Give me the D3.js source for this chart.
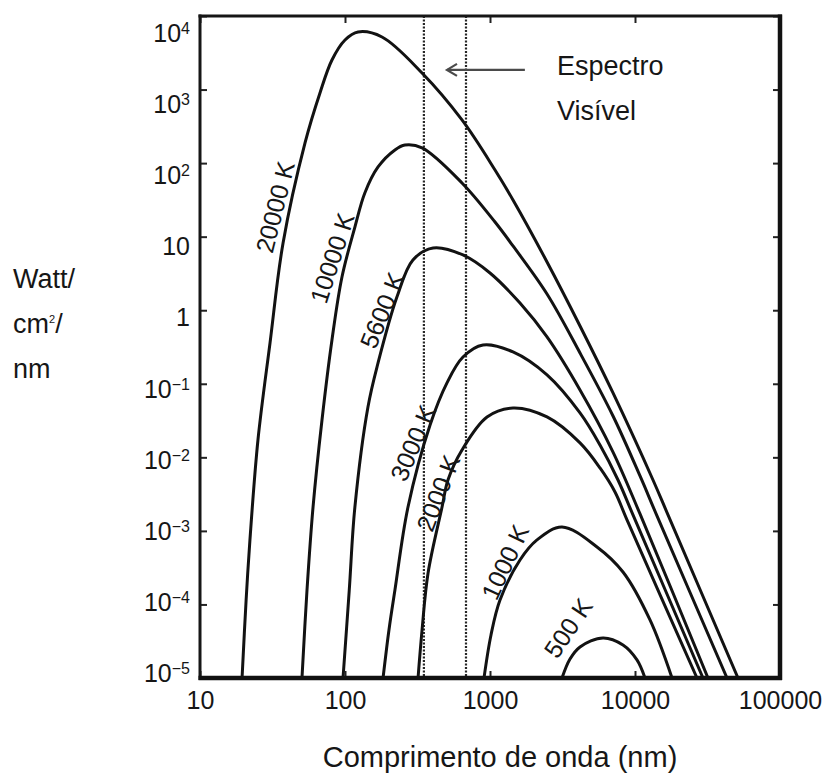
<!DOCTYPE html>
<html>
<head>
<meta charset="utf-8">
<script src="https://cdn.jsdelivr.net/npm/d3@7"></script>
<style>
body { margin: 0; background: #fff; }
text { font-family: "Liberation Sans", Arial, sans-serif; fill: #161616; }
</style>
</head>
<body>
<div id="chart"></div>
<script>
// wavelength (nm) and radiance (W/cm2/nm)
var wl20000 = [19.5, 20.8, 22.1, 25.1, 30.4, 37.4, 53.0, 67.2, 81.3, 100, 123, 180, 340, 641, 1083, 1441, 2473, 4176, 7053, 13310, 16890, 51330];
var I20000  = [1e-5, 1.15e-4, 7.53e-4, 1.72e-2, 0.359, 8.21, 188, 898, 2522, 4717, 6061, 5182, 1680, 386, 80.6, 31.5, 4.53, 0.611, 0.075, 4.92e-3, 1.65e-3, 1e-5];

var wl10000 = [50.5, 54.7, 60.2, 69.4, 81.3, 95.3, 117, 137, 169, 221, 259, 340, 641, 1083, 1441, 2473, 4176, 7053, 10830, 14180, 43110];
var I10000  = [1e-5, 1.57e-4, 2.11e-3, 3.22e-2, 0.394, 2.83, 13.5, 39.3, 88.6, 151, 176, 161, 53.7, 15.8, 7.47, 1.66, 0.262, 0.0365, 5.58e-3, 1.60e-3, 1e-5];

var wl5600 = [96.9, 107, 117, 144, 169, 228, 294, 405, 651, 1000, 1610, 2473, 4176, 7053, 10830, 31870];
var I5600  = [1e-5, 1.57e-4, 2.11e-3, 4.84e-2, 0.192, 1.51, 4.82, 7.02, 5.64, 3.21, 1.25, 0.433, 0.0823, 0.0118, 1.70e-3, 1e-5];

var wl3000 = [183, 201, 221, 272, 386, 505, 651, 895, 1441, 2473, 4176, 5736, 7635, 9687, 29440];
var I3000  = [1e-5, 4.50e-5, 1.57e-4, 2.11e-3, 2.75e-2, 0.103, 0.231, 0.337, 0.271, 0.132, 0.0401, 0.0147, 4.92e-3, 1.65e-3, 1e-5];

var wl2000 = [319, 340, 374, 467, 513, 641, 954, 1441, 2473, 4176, 5736, 7279, 8807, 26770];
var I2000  = [1e-5, 4.50e-5, 2.68e-4, 2.11e-3, 4.92e-3, 0.0126, 0.0354, 0.0469, 0.0354, 0.0157, 7.17e-3, 3.38e-3, 1.41e-3, 1e-5];

var wl1000 = [909, 1016, 1172, 1610, 2109, 3137, 5469, 8264, 12690, 18000];
var I1000  = [1e-5, 3.85e-5, 1.15e-4, 4.02e-4, 7.53e-4, 1.13e-3, 6.05e-4, 2.76e-4, 6.15e-5, 1e-5];

var wl500 = [3137, 3562, 4176, 6016, 8264, 10320, 11720];
var I500  = [1e-5, 1.81e-5, 2.64e-5, 3.50e-5, 2.81e-5, 1.76e-5, 1e-5];

var curveNames = ["20000 K", "10000 K", "5600 K", "3000 K", "2000 K", "1000 K", "500 K"];
var curveWl = [wl20000, wl10000, wl5600, wl3000, wl2000, wl1000, wl500];
var curveI = [I20000, I10000, I5600, I3000, I2000, I1000, I500];

var xTicks = [10, 100, 1000, 10000, 100000];
var yTicks = [1e-5, 1e-4, 1e-3, 1e-2, 1e-1, 1, 10, 100, 1000, 10000];

// visible band edges (nm)
var visibleBand = [350, 683];

// where each curve name sits (wavelength, radiance) and its slant
var labelSpots = [
    [32.9, 25.3, -76],
    [81.3, 5.13, -72],
    [180, 1.0, -68],
    [294, 0.0157, -67],
    [438, 3.28e-3, -69],
    [1269, 3.78e-4, -65],
    [3451, 4.79e-5, -56]
];

//svg size
var svgWidth = 829;
var svgHeight = 775;

var margin = {top: 16, right: 49, bottom: 97, left: 200};
var chartWidth = svgWidth - margin.left - margin.right;
var chartHeight = svgHeight - margin.top - margin.bottom;

var svg = d3.select("#chart")
    .append("svg")
    .attr("width", svgWidth)
    .attr("height", svgHeight);

var chartGroup = svg.append("g").attr("transform", `translate(${margin.left}, ${margin.top})`);

//scales
var xScale = d3.scaleLog().domain([10, 100000]).range([0, chartWidth]);
var yScale = d3.scaleLog().domain([1e-5, 1e4]).range([chartHeight, 0]);
// tick labels sit a bit tighter than the ticks in the original
var yLabelScale = d3.scaleLog().domain([1e-5, 1e4]).range([chartHeight - 5, 17]);

chartGroup.append("clipPath").attr("id", "plotClip")
    .append("rect").attr("width", chartWidth).attr("height", chartHeight);

//visible band dotted lines
chartGroup.selectAll(".band")
    .data(visibleBand)
    .enter()
    .append("line")
    .attr("x1", d => xScale(d))
    .attr("x2", d => xScale(d))
    .attr("y1", 0)
    .attr("y2", chartHeight)
    .attr("stroke", "#262626")
    .attr("stroke-width", 2.2)
    .attr("stroke-dasharray", "2,1.5");

//curves
var line = d3.line()
    .x(d => xScale(d[0]))
    .y(d => yScale(d[1]))
    .curve(d3.curveCatmullRom.alpha(0.5));

chartGroup.append("g").attr("clip-path", "url(#plotClip)")
    .selectAll("path")
    .data(curveNames)
    .enter()
    .append("path")
    .attr("d", (name, i) => line(d3.zip(curveWl[i], curveI[i])))
    .attr("fill", "none")
    .attr("stroke", "#121212")
    .attr("stroke-width", 3)
    .attr("stroke-linejoin", "round");

//curve labels
chartGroup.selectAll(".curveLabel")
    .data(curveNames)
    .enter()
    .append("text")
    .attr("transform", (name, i) => `translate(${xScale(labelSpots[i][0])}, ${yScale(labelSpots[i][1])}) rotate(${labelSpots[i][2]})`)
    .attr("text-anchor", "middle")
    .attr("dy", "0.36em")
    .style("font-size", "25px")
    .text(d => d);

//ticks on all four sides
var bottomAxis = d3.axisBottom(xScale).tickValues(xTicks).tickSize(-7).tickPadding(13).tickFormat(d3.format("d"));
var topAxis = d3.axisTop(xScale).tickValues(xTicks).tickSize(-7).tickFormat("");
var leftAxis = d3.axisLeft(yScale).tickValues(yTicks).tickSize(-7).tickFormat("");
var rightAxis = d3.axisRight(yScale).tickValues(yTicks).tickSize(-7).tickFormat("");

var xAxis = chartGroup.append("g").attr("transform", `translate(0, ${chartHeight})`).call(bottomAxis);
chartGroup.append("g").call(topAxis);
chartGroup.append("g").call(leftAxis);
chartGroup.append("g").attr("transform", `translate(${chartWidth}, 0)`).call(rightAxis);

chartGroup.selectAll(".domain").remove();
chartGroup.selectAll(".tick line").attr("stroke", "#222").attr("stroke-width", 2);
xAxis.selectAll("text")
    .style("font-size", "25px")
    .attr("fill", "#161616")
    .style("font-family", "'Liberation Sans', Arial, sans-serif");

//y tick labels with superscripts
var yLabels = chartGroup.append("g").selectAll("text")
    .data(yTicks)
    .enter()
    .append("text")
    .attr("x", -10)
    .attr("y", d => yLabelScale(d))
    .attr("dy", "0.36em")
    .attr("text-anchor", "end")
    .style("font-size", "25px");

yLabels.each(function(d) {
    var e = Math.round(Math.log10(d));
    var t = d3.select(this);
    if (e === 0) {
        t.text("1");
    } else if (e === 1) {
        t.text("10");
    } else {
        t.append("tspan").text("10");
        t.append("tspan")
            .attr("dy", "-0.5em")
            .style("font-size", "16px")
            .text(e < 0 ? "\u2212" + (-e) : e);
    }
});

//frame
chartGroup.append("line").attr("x1", 0).attr("x2", 0).attr("y1", -1.5).attr("y2", chartHeight + 2)
    .attr("stroke", "#161616").attr("stroke-width", 3);
chartGroup.append("line").attr("x1", -1.5).attr("x2", chartWidth + 2).attr("y1", 0).attr("y2", 0)
    .attr("stroke", "#161616").attr("stroke-width", 3);
chartGroup.append("line").attr("x1", chartWidth).attr("x2", chartWidth).attr("y1", -1.5).attr("y2", chartHeight + 2)
    .attr("stroke", "#111").attr("stroke-width", 4.5);
chartGroup.append("line").attr("x1", -1.5).attr("x2", chartWidth + 2).attr("y1", chartHeight).attr("y2", chartHeight)
    .attr("stroke", "#111").attr("stroke-width", 4.5);

//visible spectrum arrow and note
var arrowY = yScale(1850);
var arrowFrom = xScale(1740);
var arrowTo = xScale(505);
var arrow = chartGroup.append("g").attr("stroke", "#4a4a4a").attr("stroke-width", 2.2).attr("fill", "none");
arrow.append("line").attr("x1", arrowFrom).attr("x2", arrowTo).attr("y1", arrowY).attr("y2", arrowY);
arrow.append("path").attr("d", `M${arrowTo + 10},${arrowY - 6} L${arrowTo},${arrowY} L${arrowTo + 10},${arrowY + 6}`);

var noteX = xScale(2900);
chartGroup.append("text").attr("x", noteX).attr("y", 59).style("font-size", "27px").text("Espectro");
chartGroup.append("text").attr("x", noteX).attr("y", 104).style("font-size", "27px").text("Visível");

//axis titles
svg.append("text")
    .attr("x", 500)
    .attr("y", 767)
    .attr("text-anchor", "middle")
    .style("font-size", "29px")
    .text("Comprimento de onda (nm)");

var yTitle = svg.append("text").attr("x", 13).style("font-size", "27px");
yTitle.append("tspan").attr("x", 13).attr("y", 288).text("Watt/");
yTitle.append("tspan").attr("x", 13).attr("y", 333).text("cm");
yTitle.append("tspan").attr("dy", -10).style("font-size", "11px").text("2");
yTitle.append("tspan").attr("dy", 10).text("/");
yTitle.append("tspan").attr("x", 13).attr("y", 378).text("nm");
</script>
</body>
</html>
